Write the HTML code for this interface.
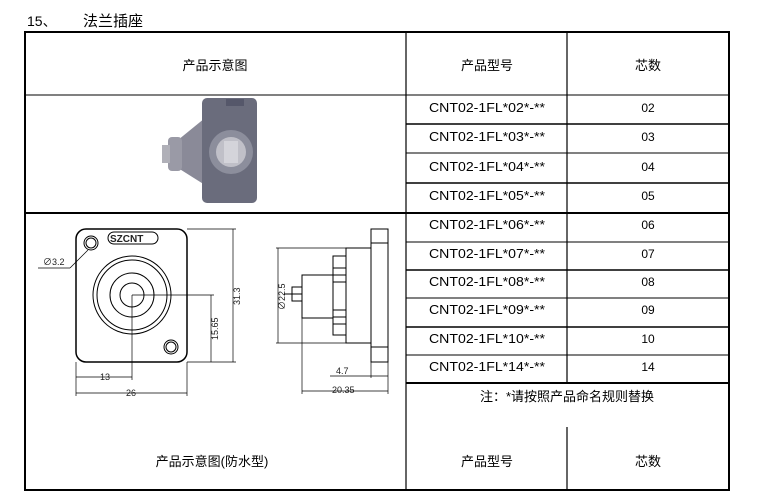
<!DOCTYPE html>
<html><head><meta charset="utf-8"><style>
body{margin:0;background:#fff;width:770px;height:492px;overflow:hidden}
svg text{font-family:"Liberation Sans","Noto Sans CJK SC",sans-serif}
</style></head><body>
<svg width="770" height="492" viewBox="0 0 770 492" xmlns="http://www.w3.org/2000/svg">
<text x="27" y="26" font-size="14">15、</text>
<text x="83" y="26" font-size="15">法兰插座</text>
<g stroke="#000" fill="none">
<rect x="25" y="32" width="704" height="458" stroke-width="2"/>
<line x1="406" y1="32" x2="406" y2="490" stroke-width="1.2"/>
<line x1="567" y1="32" x2="567" y2="383" stroke-width="1.2"/>
<line x1="567" y1="427" x2="567" y2="490" stroke-width="1.2"/>
<line x1="25" y1="95" x2="729" y2="95" stroke-width="1"/>
<line x1="406" y1="124" x2="729" y2="124" stroke-width="1.5"/>
<line x1="406" y1="153" x2="729" y2="153" stroke-width="1"/>
<line x1="406" y1="183" x2="729" y2="183" stroke-width="1.5"/>
<line x1="25" y1="213" x2="729" y2="213" stroke-width="2"/>
<line x1="406" y1="242" x2="729" y2="242" stroke-width="1"/>
<line x1="406" y1="270" x2="729" y2="270" stroke-width="1.5"/>
<line x1="406" y1="298" x2="729" y2="298" stroke-width="1"/>
<line x1="406" y1="327" x2="729" y2="327" stroke-width="1.5"/>
<line x1="406" y1="355" x2="729" y2="355" stroke-width="1"/>
<line x1="406" y1="383" x2="729" y2="383" stroke-width="2"/>
</g>
<g font-size="13" text-anchor="middle">
<text x="215" y="70">产品示意图</text>
<text x="487" y="70">产品型号</text>
<text x="648" y="70">芯数</text>
<text x="212" y="466">产品示意图(防水型)</text>
<text x="487" y="466">产品型号</text>
<text x="648" y="466">芯数</text>
<text x="567" y="401">注：*请按照产品命名规则替换</text>
</g>
<g font-size="12.5">
<text x="429" y="112" textLength="116" lengthAdjust="spacingAndGlyphs">CNT02-1FL*02*-**</text>
<text x="429" y="141" textLength="116" lengthAdjust="spacingAndGlyphs">CNT02-1FL*03*-**</text>
<text x="429" y="171" textLength="116" lengthAdjust="spacingAndGlyphs">CNT02-1FL*04*-**</text>
<text x="429" y="200" textLength="116" lengthAdjust="spacingAndGlyphs">CNT02-1FL*05*-**</text>
<text x="429" y="229" textLength="116" lengthAdjust="spacingAndGlyphs">CNT02-1FL*06*-**</text>
<text x="429" y="258" textLength="116" lengthAdjust="spacingAndGlyphs">CNT02-1FL*07*-**</text>
<text x="429" y="286" textLength="116" lengthAdjust="spacingAndGlyphs">CNT02-1FL*08*-**</text>
<text x="429" y="314" textLength="116" lengthAdjust="spacingAndGlyphs">CNT02-1FL*09*-**</text>
<text x="429" y="343" textLength="116" lengthAdjust="spacingAndGlyphs">CNT02-1FL*10*-**</text>
<text x="429" y="371" textLength="116" lengthAdjust="spacingAndGlyphs">CNT02-1FL*14*-**</text>
</g>
<g font-size="12" text-anchor="middle">
<text x="648" y="112">02</text><text x="648" y="141">03</text><text x="648" y="171">04</text>
<text x="648" y="200">05</text><text x="648" y="229">06</text><text x="648" y="258">07</text>
<text x="648" y="286">08</text><text x="648" y="314">09</text><text x="648" y="343">10</text>
<text x="648" y="371">14</text>
</g>
<!-- photo -->
<path d="M178 140 L205 118 L205 185 L178 168 Z" fill="#8a8a98"/>
<rect x="168" y="137" width="14" height="34" rx="4" fill="#9a9aa6"/>
<rect x="162" y="145" width="8" height="18" fill="#b0b0b8"/>
<rect x="202" y="98" width="55" height="105" rx="5" fill="#6a6c7c"/>
<circle cx="231" cy="152" r="22" fill="#8c8e9c"/>
<circle cx="231" cy="152" r="15" fill="#c0c0c8"/>
<rect x="224" y="141" width="14" height="22" fill="#d4d4da"/>
<rect x="226" y="99" width="18" height="7" fill="#55576a"/>
<!-- front drawing -->
<g stroke="#000" fill="none" stroke-width="1">
<rect x="76" y="229" width="111" height="133" rx="10" stroke-width="1.5"/>
<circle cx="91" cy="243" r="7"/><circle cx="91" cy="243" r="5"/>
<circle cx="171" cy="347" r="7"/><circle cx="171" cy="347" r="5"/>
<rect x="108" y="232" width="50" height="12" rx="6"/>
<circle cx="132" cy="295" r="39"/><circle cx="132" cy="295" r="35"/>
<circle cx="132" cy="295" r="22"/><circle cx="132" cy="295" r="12"/>
<g stroke-width="0.7">
<line x1="187" y1="229" x2="236" y2="229"/><line x1="187" y1="362" x2="236" y2="362"/>
<line x1="233" y1="229" x2="233" y2="362"/>
<line x1="132" y1="295" x2="214" y2="295"/><line x1="211" y1="295" x2="211" y2="362"/>
<line x1="76" y1="362" x2="76" y2="396"/><line x1="132" y1="295" x2="132" y2="380"/>
<line x1="187" y1="362" x2="187" y2="396"/>
<line x1="76" y1="377" x2="132" y2="377"/><line x1="76" y1="393" x2="187" y2="393"/>
<line x1="38" y1="268" x2="70" y2="268"/><line x1="70" y1="268" x2="88" y2="250"/>
</g></g>
<g font-size="9" font-family="Liberation Serif,serif" fill="#222">
<text x="110" y="242" font-size="10" font-weight="bold">SZCNT</text>
<text x="43" y="265">∅3.2</text>
<text x="100" y="380">13</text><text x="126" y="396">26</text>
<text transform="translate(240,305) rotate(-90)">31.3</text>
<text transform="translate(218,340) rotate(-90)">15.65</text>
<text transform="translate(285,310) rotate(-90)">∅22.5</text>
<text x="336" y="374">4.7</text><text x="332" y="393">20.35</text>
</g>
<!-- side drawing -->
<g stroke="#000" fill="none" stroke-width="1">
<rect x="371" y="229" width="17" height="133"/>
<line x1="371" y1="243" x2="388" y2="243"/><line x1="371" y1="347" x2="388" y2="347"/>
<rect x="346" y="248" width="25" height="95"/>
<rect x="333" y="256" width="13" height="79"/>
<line x1="333" y1="268" x2="346" y2="268"/><line x1="333" y1="275" x2="346" y2="275"/>
<line x1="333" y1="282" x2="346" y2="282"/><line x1="333" y1="310" x2="346" y2="310"/>
<line x1="333" y1="317" x2="346" y2="317"/><line x1="333" y1="324" x2="346" y2="324"/>
<rect x="302" y="275" width="31" height="43"/>
<rect x="292" y="287" width="10" height="14"/>
<line x1="284" y1="294" x2="302" y2="294"/>
<g stroke-width="0.7">
<line x1="276" y1="248" x2="346" y2="248"/><line x1="276" y1="343" x2="346" y2="343"/>
<line x1="278" y1="248" x2="278" y2="343"/>
<line x1="371" y1="362" x2="371" y2="378"/><line x1="388" y1="362" x2="388" y2="394"/>
<line x1="302" y1="318" x2="302" y2="394"/>
<line x1="330" y1="376" x2="388" y2="376"/><line x1="302" y1="391" x2="388" y2="391"/>
</g></g>
</svg>
</body></html>
